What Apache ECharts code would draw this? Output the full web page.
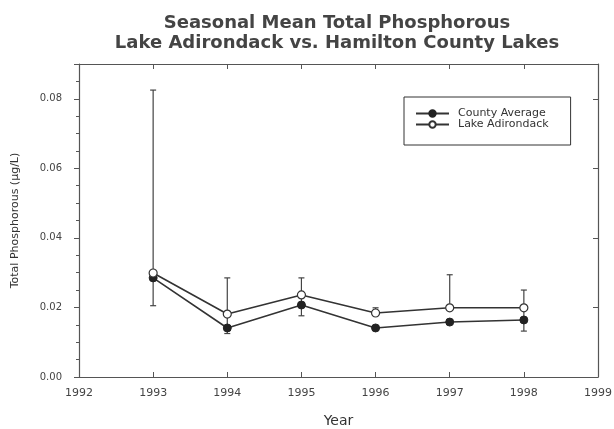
<!DOCTYPE html>
<html>
<head>
<meta charset="utf-8">
<script src="https://cdn.jsdelivr.net/npm/echarts@6/dist/echarts.min.js"></script>
<style>
  html, body { margin: 0; padding: 0; background: #fff; }
  #chart { width: 614px; height: 429px; }
</style>
</head>
<body>
<div id="chart"></div>
<script>
// data
const years = [1993, 1994, 1995, 1996, 1997, 1998];
const countyAverage = [0.0285, 0.0141, 0.0207, 0.0141, 0.0158, 0.0164];
const lakeAdirondack = [0.0299, 0.0181, 0.0236, 0.0184, 0.0199, 0.0199];
// error bars: [year, low, high]
const errorBars = [
  [1993, 0.0205, 0.0825],
  [1994, 0.0125, 0.0285],
  [1995, 0.0176, 0.0285],
  [1996, 0.0184, 0.0199],
  [1997, 0.0199, 0.0294],
  [1998, 0.0132, 0.0250]
];

const font = '"DejaVu Sans", sans-serif';
const axisColor = '#555';

let chart = echarts.init(document.getElementById('chart'));

function pairs(vals) {
  return years.map((y, i) => [y, vals[i]]);
}

let options = {
  animation: false,
  backgroundColor: '#fff',
  title: {
    text: 'Seasonal Mean Total Phosphorous\nLake Adirondack vs. Hamilton County Lakes',
    left: 332,
    top: 8,
    textAlign: 'center',
    textStyle: {
      fontFamily: font,
      fontSize: 18,
      fontWeight: 'bold',
      color: '#444',
      lineHeight: 20
    }
  },
  legend: {
    orient: 'vertical',
    left: 404,
    top: 97,
    padding: [11, 22, 15, 11],
    itemGap: 0,
    itemWidth: 33,
    itemHeight: 8,
    borderColor: '#333',
    borderWidth: 1,
    textStyle: { fontFamily: font, fontSize: 11, color: '#333', lineHeight: 10, padding: [0, 0, 0, 4] },
    data: ['County Average', 'Lake Adirondack']
  },
  grid: {
    left: 79,
    right: 16,
    top: 64,
    bottom: 52,
    outerBoundsMode: 'none'
  },
  xAxis: [
    {
      type: 'value',
      min: 1992,
      max: 1999,
      interval: 1,
      name: 'Year',
      nameLocation: 'middle',
      nameGap: 37,
      nameTextStyle: { fontFamily: font, fontSize: 14, color: '#333' },
      axisLine: { lineStyle: { color: axisColor, width: 1.2 } },
      axisTick: { show: true, inside: true, length: 5, lineStyle: { color: axisColor } },
      splitLine: { show: false },
      axisLabel: { fontFamily: font, fontSize: 11, color: '#444', margin: 11, formatter: v => String(v) }
    },
    {
      type: 'value',
      position: 'top',
      min: 1992,
      max: 1999,
      interval: 1,
      axisLine: { show: true, onZero: false, lineStyle: { color: axisColor, width: 1.2 } },
      axisTick: { show: true, inside: true, length: 5, lineStyle: { color: axisColor } },
      axisLabel: { show: false },
      splitLine: { show: false }
    }
  ],
  yAxis: [
    {
      type: 'value',
      min: 0,
      max: 0.09,
      interval: 0.02,
      name: 'Total Phosphorous (µg/L)',
      nameLocation: 'middle',
      nameGap: 58,
      nameTextStyle: { fontFamily: font, fontSize: 11, color: '#333' },
      axisLine: { show: true, lineStyle: { color: axisColor, width: 1.2 } },
      axisTick: { show: true, length: 5, lineStyle: { color: axisColor } },
      minorTick: { show: true, splitNumber: 4, length: 3, lineStyle: { color: axisColor } },
      splitLine: { show: false },
      axisLabel: {
        fontFamily: font,
        fontSize: 10,
        color: '#444',
        margin: 17,
        showMaxLabel: false,
        formatter: v => v.toFixed(2)
      }
    },
    {
      type: 'value',
      position: 'right',
      min: 0,
      max: 0.09,
      interval: 0.02,
      axisLine: { show: true, onZero: false, lineStyle: { color: axisColor, width: 1.2 } },
      axisTick: { show: true, inside: true, length: 5, lineStyle: { color: axisColor } },
      axisLabel: { show: false },
      splitLine: { show: false }
    }
  ],
  series: [
    {
      name: 'error',
      type: 'custom',
      data: errorBars,
      z: 1,
      renderItem(params, api) {
        const x = api.value(0);
        const lo = api.coord([x, api.value(1)]);
        const hi = api.coord([x, api.value(2)]);
        const cap = 3;
        const style = { stroke: '#444', lineWidth: 1.2 };
        return {
          type: 'group',
          children: [
            { type: 'line', shape: { x1: lo[0], y1: lo[1], x2: hi[0], y2: hi[1] }, style },
            { type: 'line', shape: { x1: hi[0] - cap, y1: hi[1], x2: hi[0] + cap, y2: hi[1] }, style },
            { type: 'line', shape: { x1: lo[0] - cap, y1: lo[1], x2: lo[0] + cap, y2: lo[1] }, style }
          ]
        };
      }
    },
    {
      name: 'County Average',
      type: 'line',
      data: pairs(countyAverage),
      symbol: 'circle',
      symbolSize: 8,
      z: 3,
      color: '#222',
      lineStyle: { color: '#333', width: 1.6 },
      itemStyle: { color: '#222', borderColor: '#222', borderWidth: 1 }
    },
    {
      name: 'Lake Adirondack',
      type: 'line',
      data: pairs(lakeAdirondack),
      symbol: 'circle',
      symbolSize: 8,
      z: 4,
      color: '#333',
      lineStyle: { color: '#333', width: 1.6 },
      itemStyle: { color: '#fff', borderColor: '#333', borderWidth: 1.2 }
    }
  ]
};

chart.setOption(options);
</script>
</body>
</html>
